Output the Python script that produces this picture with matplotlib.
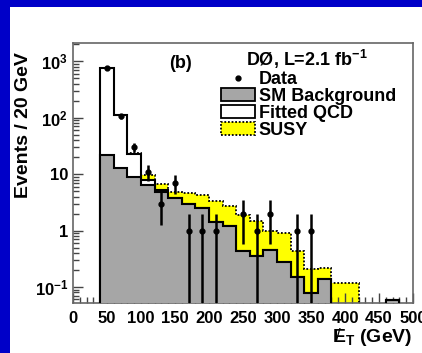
import matplotlib.pyplot as plt
import numpy as np
from matplotlib.lines import Line2D
from matplotlib.patches import Patch, Rectangle
from matplotlib.ticker import MultipleLocator, LogLocator, NullFormatter

plt.rcParams['font.family'] = ['Liberation Sans', 'DejaVu Sans']
plt.rcParams['font.weight'] = 'bold'
plt.rcParams['mathtext.fontset'] = 'custom'
plt.rcParams['mathtext.rm'] = 'Liberation Sans:bold'
plt.rcParams['mathtext.bf'] = 'Liberation Sans:bold'
plt.rcParams['mathtext.it'] = 'Liberation Sans:bold:italic'

# 20 GeV bins from 40 to 480 GeV
bin_edges = np.arange(40, 500, 20)

sm_background = [22.0, 12.6, 9.0, 6.4, 4.9, 3.7, 2.95, 2.5, 1.42, 1.2, 0.44,
                 0.36, 0.45, 0.275, 0.15, 0.077, 0.14, 0, 0, 0, 0, 0.058]
fitted_qcd = [748, 98, 14, 1.3, 0.35, 0, 0, 0, 0, 0, 0,
              0, 0, 0, 0, 0, 0, 0, 0, 0, 0, 0]
susy = [0.1, 0.2, 0.3, 1.8, 1.4, 1.1, 1.6, 1.8, 1.85, 1.48, 1.45,
        1.14, 0.55, 0.62, 0.29, 0.13, 0.08, 0.117, 0.117, 0, 0, 0]

data_met = [50, 70, 90, 110, 130, 150, 170, 190, 210, 250, 270, 290, 330, 350]
data_counts = [760, 105, 30, 11, 3, 7, 1, 1, 1, 2, 1, 2, 1, 1]

ytick_vals = [0.1, 1, 10, 100, 1000]
ytick_labels = [r'$10^{-1}$', '1', '10', r'$10^{2}$', r'$10^{3}$']

W, H = 422, 353
FLOOR = 1e-3

fig = plt.figure(figsize=(W / 100, H / 100), dpi=100)
fig.patch.set_facecolor('#0000c8')
fig.add_artist(Rectangle((10 / W, 0), 1, (H - 7) / H, transform=fig.transFigure,
                         facecolor='white', edgecolor='none', zorder=-5))

ax = fig.add_axes([73 / W, (H - 303) / H, 340 / W, 260 / H])

sm = np.array(sm_background)
bkg = sm + np.array(fitted_qcd)
total = bkg + np.array(susy)

ax.stairs(np.maximum(total, FLOOR), bin_edges, baseline=FLOOR, fill=True,
          facecolor='#ffff00', edgecolor='none', zorder=1)
ax.stairs(np.maximum(total, FLOOR), bin_edges, baseline=FLOOR, fill=False,
          color='black', lw=1.3, ls=(0, (1, 1)), zorder=2)
ax.stairs(np.maximum(bkg, FLOOR), bin_edges, baseline=FLOOR, fill=True,
          facecolor='white', edgecolor='black', lw=1.5, zorder=3)
ax.stairs(np.maximum(sm, FLOOR), bin_edges, baseline=FLOOR, fill=True,
          facecolor='#a6a6a6', edgecolor='black', lw=1.5, zorder=4)

n = np.array(data_counts, dtype=float)
err = np.sqrt(n)
ax.errorbar(data_met, n, yerr=[np.minimum(err, n * 0.999), err], fmt='o',
            ms=3.5, color='black', elinewidth=1.8, capsize=0, zorder=6)

ax.set_yscale('log')
ax.set_xlim(0, 500)
ax.set_ylim(0.052, 2100)
ax.xaxis.set_major_locator(MultipleLocator(50))
ax.xaxis.set_minor_locator(MultipleLocator(10))
ax.set_yticks(ytick_vals)
ax.set_yticklabels(ytick_labels)
ax.yaxis.set_minor_locator(LogLocator(base=10, subs=np.arange(2, 10)))
ax.yaxis.set_minor_formatter(NullFormatter())
ax.tick_params(which='both', direction='in', top=False, right=False,
               labelsize=12, width=1, color='#444444')
ax.tick_params(which='major', length=7)
ax.tick_params(which='minor', length=4)
ax.tick_params(axis='x', pad=6)
ax.tick_params(axis='y', pad=3.5)
for sp in ax.spines.values():
    sp.set_color('#666666')
    sp.set_linewidth(1.2)

fig.text(24 / W, 1 - 125 / H, 'Events / 20 GeV', rotation=90, fontsize=14,
         ha='center', va='center')
fig.text(412 / W, 1 - 338 / H, r'$\mathrm{E}_{\mathrm{T}}$ (GeV)', fontsize=14,
         ha='right', va='center')
# slash through the E of missing E_T
fig.text(338 / W, 1 - 336 / H, '/', fontsize=12, fontweight='normal',
         ha='center', va='center')

ax.text(180 / W, 1 - 64 / H, '(b)', transform=fig.transFigure, fontsize=13,
        ha='center', va='center')
ax.text(307 / W, 1 - 59 / H, r'DØ, L=2.1 fb$^{-1}$', transform=fig.transFigure,
        fontsize=13, ha='center', va='center')

handles = [
    Line2D([], [], marker='o', ms=3.5, color='black', ls='none'),
    Patch(facecolor='#a6a6a6', edgecolor='black', lw=1.3),
    Patch(facecolor='white', edgecolor='black', lw=1.3),
    Patch(facecolor='#ffff00', edgecolor='black', lw=1.3, ls=(0, (1, 1))),
]
labels = ['Data', 'SM Background', 'Fitted QCD', 'SUSY']
ax.legend(handles, labels, loc='upper left', bbox_to_anchor=(221 / W, 1 - 71 / H),
          bbox_transform=fig.transFigure, frameon=False, fontsize=13,
          handlelength=1.9, handleheight=0.75, handletextpad=0.2,
          labelspacing=0.0, borderpad=0, borderaxespad=0)

fig.savefig('out.png', dpi=100)
